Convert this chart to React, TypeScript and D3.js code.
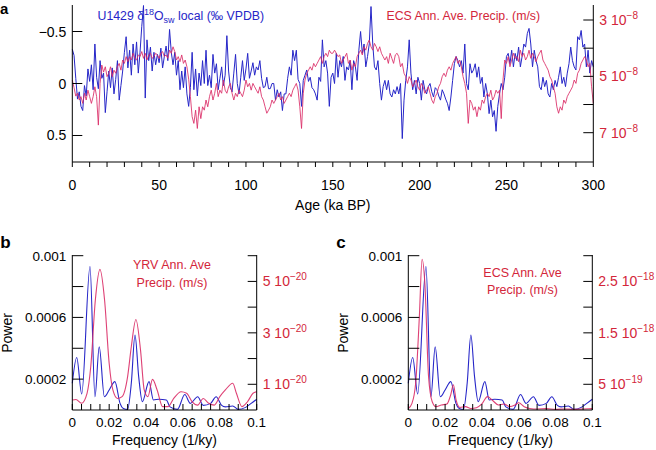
import React from 'react';
import * as d3 from 'd3';

const FONT = '"Liberation Sans", Arial, Helvetica, sans-serif';
const BLUE = '#2626c8';
const RED_LINE = '#da2c66';
const RED_TEXT = '#d3263a';

// ---------- Panel a: time series (1 ka steps from 0 to 300 ka BP) ----------
const AGE_STEP = 1;
// U1429 δ18Osw local (‰ VPDB)
const d18Osw = [
  -0.33,-0.27,-0.05,0.15,0.08,0.22,0.26,0.02,0.12,-0.14,
  -0.02,-0.18,0.06,-0.38,-0.06,0.05,-0.22,-0.05,-0.10,0.28,
  0.08,-0.12,0.04,-0.15,0.10,-0.04,-0.22,0.16,0.02,-0.12,
  -0.30,-0.45,-0.15,-0.32,-0.08,-0.38,-0.18,-0.40,-0.10,-0.30,
  -0.55,-0.75,0.14,-0.42,-0.22,-0.35,-0.12,-0.30,-0.18,-0.28,
  -0.20,-0.34,-0.15,-0.26,-0.36,-0.22,-0.52,-0.30,-0.18,-0.30,
  -0.08,-0.22,0.06,-0.12,0.04,-0.16,0.10,0.22,0.04,-0.30,
  0.06,-0.14,0.12,-0.10,0.02,-0.22,0.00,-0.32,0.02,-0.08,
  0.04,-0.28,-0.10,-0.19,0.06,-0.05,-0.16,0.02,-0.08,-0.46,
  -0.12,0.04,0.08,-0.10,-0.28,0.00,0.10,-0.06,-0.22,-0.03,
  -0.14,-0.29,-0.05,-0.12,-0.20,-0.08,-0.16,-0.13,-0.22,-0.05,
  0.04,0.03,-0.06,0.05,0.05,0.00,0.00,0.16,0.06,0.13,
  0.08,0.26,0.10,0.10,-0.05,-0.16,-0.08,-0.32,-0.22,-0.32,
  -0.04,0.00,0.22,-0.03,-0.08,-0.13,-0.02,-0.06,0.04,0.06,
  0.10,0.16,-0.06,-0.02,-0.42,-0.16,-0.22,-0.10,0.22,-0.06,
  -0.10,0.00,-0.29,-0.06,-0.22,-0.16,-0.26,-0.03,-0.16,-0.13,
  -0.22,0.06,-0.22,-0.16,-0.03,-0.32,-0.50,-0.29,-0.38,-0.16,
  -0.26,-0.38,-0.74,-0.38,-0.16,-0.13,-0.22,0.00,0.16,0.03,
  -0.03,0.06,-0.03,0.10,0.13,0.06,0.10,0.03,0.10,0.00,
  0.53,0.16,-0.03,-0.16,-0.42,-0.10,0.06,-0.03,0.10,-0.06,
  0.00,0.16,-0.03,0.06,0.10,0.03,0.00,0.08,0.13,0.04,
  0.06,0.12,0.16,0.06,0.10,0.15,0.19,0.26,0.13,-0.03,
  -0.19,-0.26,-0.22,-0.16,-0.22,-0.10,-0.38,0.00,0.06,-0.19,
  -0.10,-0.13,-0.19,-0.06,-0.16,0.00,-0.06,0.13,0.00,0.10,
  0.29,0.16,0.32,0.26,0.46,0.22,0.10,0.00,0.06,-0.06,
  -0.26,-0.29,-0.19,-0.32,-0.16,-0.29,-0.22,-0.35,-0.16,-0.26,
  -0.38,-0.35,-0.48,-0.53,-0.38,-0.16,-0.32,-0.22,-0.16,0.03,
  0.06,-0.06,0.03,-0.03,0.10,0.13,0.00,0.06,-0.03,0.03,
  -0.06,-0.16,0.00,-0.06,0.03,-0.10,-0.19,-0.35,-0.22,-0.16,
  -0.13,-0.45,-0.42,-0.51,-0.35,-0.38,-0.16,-0.32,-0.10,-0.22,
  -0.16,
];
// ECS annual average precipitation, in units of 1e-8 m/s
const ecsPrecipE8 = [
  5.13,5.40,5.70,5.60,5.84,5.72,5.96,5.60,5.84,5.49,
  5.72,5.96,5.72,5.37,5.72,6.73,5.25,4.60,4.85,4.66,
  5.01,4.89,4.66,5.01,4.78,4.89,4.66,4.54,4.78,4.42,
  4.54,4.30,4.48,4.30,4.42,4.18,4.36,4.42,4.24,4.30,
  4.12,4.36,4.18,4.42,4.24,4.18,4.36,4.30,4.18,4.24,
  4.36,4.18,4.12,4.30,4.24,4.36,4.07,4.18,3.95,4.12,
  4.42,4.30,4.48,4.24,4.54,4.42,4.66,5.10,5.72,6.43,
  6.67,6.20,6.85,6.08,6.50,6.08,6.20,5.84,6.08,5.72,
  5.49,5.84,5.60,5.25,5.72,5.49,5.60,5.13,5.49,5.60,
  5.37,5.25,5.60,5.84,5.60,5.72,5.49,5.60,5.72,5.49,
  5.13,5.37,5.25,5.49,5.25,5.37,5.49,5.60,5.37,5.72,
  5.84,6.08,6.31,6.20,6.08,5.84,5.96,5.84,5.72,5.60,
  5.84,5.72,5.96,5.84,5.72,5.60,5.72,5.49,5.37,5.25,
  5.49,6.08,6.85,5.60,5.13,4.89,4.78,4.66,4.78,4.54,
  4.66,4.54,4.42,4.30,4.54,4.30,4.18,4.30,4.07,4.18,
  4.18,4.07,4.18,4.30,4.24,4.54,4.42,4.30,4.18,4.54,
  4.42,4.78,4.54,4.66,4.30,4.18,4.07,4.24,3.95,4.07,
  3.83,3.71,3.95,4.07,3.83,3.95,4.12,3.95,4.18,4.30,
  4.42,4.30,4.54,4.18,4.36,4.54,4.24,4.18,4.30,4.66,
  4.54,4.89,5.01,5.25,5.01,5.13,5.37,5.25,5.13,5.37,
  5.49,5.25,5.37,5.60,5.49,5.37,5.60,5.84,5.96,5.72,
  5.60,5.37,5.25,5.01,4.89,5.01,4.78,4.66,4.78,4.54,
  4.42,4.30,4.54,4.42,4.66,5.01,5.25,5.60,6.67,5.84,
  5.96,6.20,6.08,6.43,6.08,6.20,5.84,5.96,5.72,5.60,
  5.72,5.49,5.84,5.72,5.49,5.60,5.49,6.50,5.13,4.42,
  4.54,4.30,4.66,4.42,4.18,4.36,4.30,4.48,4.07,4.30,
  4.18,4.42,4.30,4.07,4.36,4.18,4.30,4.48,4.30,4.18,
  4.07,4.42,4.54,4.66,4.78,5.01,5.13,5.37,5.60,6.08,
  6.31,6.08,6.20,5.84,5.96,5.72,5.60,5.49,5.37,5.13,
  5.25,4.89,4.78,4.54,4.42,4.30,4.42,4.66,4.54,5.37,
  5.96,
];
const ageTicks = [0, 50, 100, 150, 200, 250, 300];
const d18Ticks = [-0.5, 0, 0.5];
const d18TickLabels = ['\u22120.5', '0', '0.5'];
const precipTicksE8 = [3, 4, 5, 6, 7];
const precipLabelTicksE8 = [3, 5, 7];

// ---------- Panels b, c: spectra ----------
const u1429Freq = [0,0.0024,0.0051,0.0096,0.0123,0.0146,0.0174,0.020,0.0231,0.0259,0.0277,0.030,0.032,0.034,0.036,0.038,0.0416,0.044,0.047,0.051,0.053,0.057,0.061,0.064,0.068,0.071,0.075,0.078,0.081,0.083,0.087,0.090,0.094,0.097,0.1];
const u1429Power = [0.000173,0.00034,0.000104,0.00093,0.000086,0.00041,0.000086,0.00013,0.000184,0.000043,0.00001,0.000004,0.000173,0.000486,0.000216,0.000054,0.000184,0.000065,0.00007,0.000065,0.00002,0.000004,0.0001,0.000043,0.000086,0.00003,0.000043,0.000086,0.00003,0.00002,0.000026,0.000004,0.000017,0.000043,0.00007];

const yrvFreq = [0,0.002,0.005,0.008,0.010,0.0125,0.015,0.0175,0.020,0.022,0.0245,0.027,0.030,0.032,0.0345,0.037,0.039,0.041,0.0435,0.046,0.049,0.052,0.055,0.059,0.062,0.065,0.068,0.071,0.074,0.077,0.080,0.083,0.087,0.089,0.092,0.095,0.098,0.1];
// units of 1e-20
const yrvPowerE20 = [0.39,0.41,0.26,0.65,1.68,4.28,5.47,4.28,1.81,0.78,0.45,0.52,1.30,2.46,3.52,2.33,0.78,0.52,1.19,0.78,0.13,0.13,0.45,0.71,0.65,0.32,0.19,0.45,0.26,0.19,0.52,0.78,1.04,0.65,0.13,0.32,0.65,0.71];

const ecsFreq = [0,0.002,0.004,0.006,0.0075,0.009,0.011,0.013,0.015,0.018,0.021,0.023,0.0245,0.026,0.028,0.031,0.034,0.037,0.040,0.043,0.046,0.049,0.052,0.055,0.058,0.060,0.063,0.066,0.070,0.075,0.080,0.085,0.090,0.095,0.1];
// units of 1e-18
const ecsPowerE18 = [0.03,0.13,0.52,1.81,2.93,2.46,0.65,0.16,0.065,0.097,0.117,0.29,0.49,0.19,0.05,0.065,0.03,0.045,0.117,0.26,0.18,0.097,0.117,0.065,0.097,0.14,0.065,0.03,0.02,0.026,0.013,0.02,0.013,0.02,0.026];

const freqLabelTicks = [0, 0.02, 0.04, 0.06, 0.08, 0.1];
const freqLabels = ['0', '0.02', '0.04', '0.06', '0.08', '0.1'];
const powerTicks = [0.0002, 0.0004, 0.0006, 0.0008, 0.001];
const powerLabelTicks = [0.0002, 0.0006, 0.001];
const powerLabels = ['0.0002', '0.0006', '0.001'];
const yrvTicksE20 = [1, 2, 3, 4, 5, 6];
const yrvLabels = [{ v: 5, m: '5', e: '\u221220' }, { v: 3, m: '3', e: '\u221220' }, { v: 1, m: '1', e: '\u221220' }];
const ecsTicksE18 = [0.5, 1, 1.5, 2, 2.5, 3];
const ecsLabels = [{ v: 2.5, m: '2.5', e: '\u221218' }, { v: 1.5, m: '1.5', e: '\u221218' }, { v: 0.5, m: '5', e: '\u221219' }];

type Lab = { v: number; m: string; e: string };

function SpectrumPanel(props: {
  x0: number; x1: number; letter: string; rightDomainMax: number;
  rightTicks: number[]; rightLabels: Lab[]; redF: number[]; redP: number[];
  legend1: string; legend2: string; legendX: number; legendY: number;
}) {
  const { x0, x1 } = props;
  const yTop = 255, yBot = 410;
  const x = d3.scaleLinear().domain([0, 0.1]).range([x0, x1]);
  const y = d3.scaleLinear().domain([0, 0.001]).range([yBot, 255.7]);
  const yr = d3.scaleLinear().domain([0, props.rightDomainMax]).range([yBot, 255.7]);
  const curve = d3.curveMonotoneX;
  const blueLine = d3.line<number>().x((_, i) => x(u1429Freq[i])).y((d) => y(d)).curve(curve);
  const redLine = d3.line<number>().x((_, i) => x(props.redF[i])).y((d) => yr(d)).curve(curve);
  const minorF = d3.range(0, 21).map((i) => i * 0.005);
  return (
    <g>
      <text x={x0 - 72} y={248} fontSize={17} fontWeight="bold" fill="#000">{props.letter}</text>
      <path d={blueLine(u1429Power) || ''} fill="none" stroke={BLUE} strokeWidth={1.1} />
      <path d={redLine(props.redP) || ''} fill="none" stroke={RED_LINE} strokeWidth={1.1} strokeOpacity={0.9} />
      <line x1={x0} x2={x0} y1={yTop} y2={yBot} stroke="#000" strokeWidth={1} />
      <line x1={x1} x2={x1} y1={yTop} y2={yBot} stroke="#000" strokeWidth={1} />
      <line x1={x0} x2={x1} y1={yBot} y2={yBot} stroke="#000" strokeWidth={1} />
      {minorF.map((f, i) => (
        <line key={'f' + i} x1={x(f)} x2={x(f)} y1={yBot} y2={yBot - 6} stroke="#000" strokeWidth={1} />
      ))}
      {freqLabelTicks.map((f, i) => (
        <text key={'fl' + i} x={x(f)} y={427} fontSize={13.5} textAnchor="middle" fill="#000">{freqLabels[i]}</text>
      ))}
      {powerTicks.map((p, i) => (
        <line key={'p' + i} x1={x0} x2={x0 + 11} y1={y(p)} y2={y(p)} stroke="#000" strokeWidth={1} />
      ))}
      {powerLabelTicks.map((p, i) => (
        <text key={'pl' + i} x={x0 - 6} y={y(p) + 5} fontSize={13.5} textAnchor="end" fill="#000">{powerLabels[i]}</text>
      ))}
      {props.rightTicks.map((r, i) => (
        <line key={'r' + i} x1={x1} x2={x1 - 9} y1={yr(r)} y2={yr(r)} stroke="#000" strokeWidth={1} />
      ))}
      {props.rightLabels.map((l, i) => (
        <text key={'rl' + i} x={x1 + 6} y={yr(l.v) + 5} fontSize={14} fill={RED_TEXT}>
          <tspan>{l.m + ' 10'}</tspan>
          <tspan dy={-6} fontSize={10}>{l.e}</tspan>
        </text>
      ))}
      <text x={(x0 + x1) / 2} y={445} fontSize={14} textAnchor="middle" fill="#000">Frequency (1/ky)</text>
      <text transform={`translate(${x0 - 60},333) rotate(-90)`} fontSize={14} textAnchor="middle" fill="#000">Power</text>
      <text x={props.legendX} y={props.legendY} fontSize={12.5} textAnchor="middle" fill={RED_TEXT}>{props.legend1}</text>
      <text x={props.legendX} y={props.legendY + 17.5} fontSize={12.5} textAnchor="middle" fill={RED_TEXT}>{props.legend2}</text>
    </g>
  );
}

export default function App() {
  const xA = d3.scaleLinear().domain([0, 300]).range([72.3, 593.3]);
  const yA = d3.scaleLinear().domain([-0.755, 0.755]).range([5, 162]);
  const yP = d3.scaleLinear().domain([2.467, 8.04]).range([5, 162]);
  const blueTS = d3.line<number>().x((_, i) => xA(i * AGE_STEP)).y((d) => yA(d));
  const redTS = d3.line<number>().x((_, i) => xA(i * AGE_STEP)).y((d) => yP(d));
  const minorAges = d3.range(0, 31).map((i) => i * 10);
  const L = 72.3, R = 593.3, T = 5, B = 162;

  return (
    <div style={{ position: 'absolute', left: 0, top: 0 }}>
      <svg width={656} height={450} viewBox="0 0 656 450" style={{ display: 'block', background: '#fff', fontFamily: FONT }}>
        {/* Panel a */}
        <text x={0} y={13.5} fontSize={15} fontWeight="bold" fill="#000">a</text>
        <path d={blueTS(d18Osw) || ''} fill="none" stroke={BLUE} strokeWidth={1} />
        <path d={redTS(ecsPrecipE8) || ''} fill="none" stroke={RED_LINE} strokeWidth={1} strokeOpacity={0.85} />
        <line x1={L} x2={L} y1={T} y2={B} stroke="#000" strokeWidth={1} />
        <line x1={R} x2={R} y1={T} y2={B} stroke="#000" strokeWidth={1} />
        <line x1={L} x2={R} y1={B} y2={B} stroke="#000" strokeWidth={1} />
        {minorAges.map((a, i) => (
          <line key={'ma' + i} x1={xA(a)} x2={xA(a)} y1={B} y2={B + 5} stroke="#000" strokeWidth={1} />
        ))}
        {ageTicks.map((a, i) => (
          <text key={'at' + i} x={xA(a)} y={190} fontSize={14} textAnchor="middle" fill="#000">{String(a)}</text>
        ))}
        {d18Ticks.map((v, i) => (
          <g key={'dt' + i}>
            <line x1={L} x2={L + 10} y1={yA(v)} y2={yA(v)} stroke="#000" strokeWidth={1} />
            <text x={L - 6} y={yA(v) + 5} fontSize={14} textAnchor="end" fill="#000">{d18TickLabels[i]}</text>
          </g>
        ))}
        {precipTicksE8.map((v, i) => (
          <line key={'pt' + i} x1={R} x2={R - 10} y1={yP(v)} y2={yP(v)} stroke="#000" strokeWidth={1} />
        ))}
        {precipLabelTicksE8.map((v, i) => (
          <text key={'pl' + i} x={R + 6} y={yP(v) + 5} fontSize={14} fill={RED_TEXT}>
            <tspan>{v + ' 10'}</tspan>
            <tspan dy={-6} fontSize={10}>{'\u22128'}</tspan>
          </text>
        ))}
        <text x={(L + R) / 2} y={210} fontSize={14} textAnchor="middle" fill="#000">Age (ka BP)</text>
        <text x={97.5} y={19.5} fontSize={12.3} fill={BLUE}>
          <tspan>U1429 δ</tspan>
          <tspan dy={-5} fontSize={9}>18</tspan>
          <tspan dy={5}>O</tspan>
          <tspan dy={3} fontSize={9}>sw</tspan>
          <tspan dy={-3}> local (‰ VPDB)</tspan>
        </text>
        <text x={386.5} y={19.5} fontSize={12.3} fill={RED_TEXT}>ECS Ann. Ave. Precip. (m/s)</text>

        {/* Panel b */}
        <SpectrumPanel x0={72.3} x1={256.7} letter="b" rightDomainMax={6}
          rightTicks={yrvTicksE20} rightLabels={yrvLabels} redF={yrvFreq} redP={yrvPowerE20}
          legend1="YRV Ann. Ave" legend2="Precip. (m/s)" legendX={172} legendY={269} />
        {/* Panel c */}
        <SpectrumPanel x0={408.3} x1={592.3} letter="c" rightDomainMax={3}
          rightTicks={ecsTicksE18} rightLabels={ecsLabels} redF={ecsFreq} redP={ecsPowerE18}
          legend1="ECS Ann. Ave" legend2="Precip. (m/s)" legendX={522.5} legendY={276.5} />
      </svg>
    </div>
  );
}
